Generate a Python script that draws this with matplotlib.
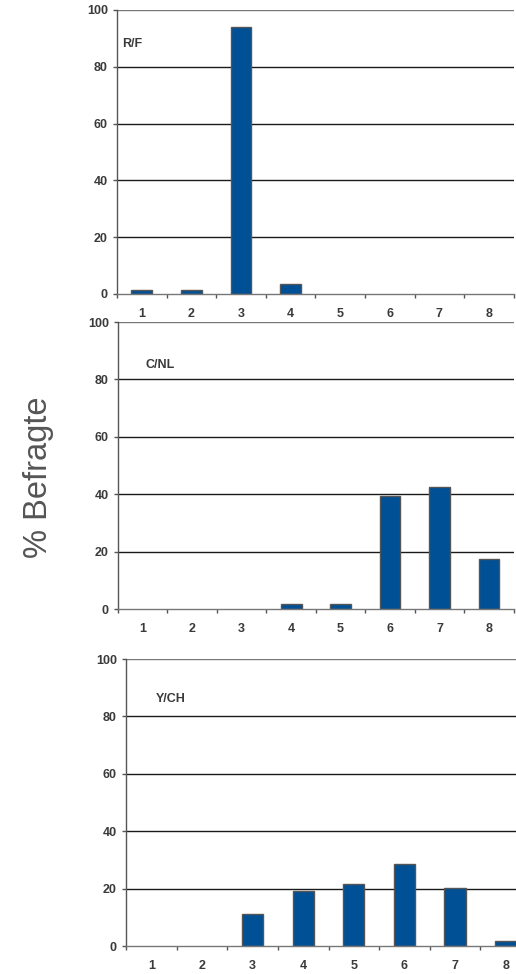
import matplotlib

matplotlib.use("Agg")
import matplotlib.pyplot as plt  # noqa: E402
import numpy as np  # noqa: E402

plt.rcParams["font.family"] = ["Liberation Sans", "DejaVu Sans"]

CATEGORIES = ["1", "2", "3", "4", "5", "6", "7", "8"]
PANEL_LABELS = ["R/F", "C/NL", "Y/CH"]
RF_VALUES = [1.5, 1.5, 94.1, 3.4, 0, 0, 0, 0]
CNL_VALUES = [0, 0, 0, 1.6, 1.6, 39.3, 42.6, 17.6]
YCH_VALUES = [0, 0, 11.3, 19.3, 21.5, 28.5, 20.1, 1.6]
Y_TICKS = [0, 20, 40, 60, 80, 100]

BAR_COLOR = "#005096"
TEXT_COLOR = "#3a3a3a"

fig = plt.figure(figsize=(5.16, 9.74), dpi=100)

# panel rectangles in figure fractions (last one runs past the right edge like the source)
rects = [
    [0.2267, 0.6982, 0.769, 0.2916],
    [0.2287, 0.3747, 0.767, 0.2947],
    [0.2442, 0.0287, 0.785, 0.2947],
]
label_pos = [(-0.4, 88), (0.05, 85), (0.09, 86)]

for rect, values, name, (lx, ly) in zip(rects, [RF_VALUES, CNL_VALUES, YCH_VALUES], PANEL_LABELS, label_pos):
    ax = fig.add_axes(rect)
    x = np.arange(len(CATEGORIES))
    ax.set_axisbelow(True)
    for y in Y_TICKS[1:]:
        ax.axhline(y, color="#1a1a1a" if y < 100 else "#777777", lw=1.0, zorder=0)
    widths = [1.0 if v > 0 else 0.0 for v in values]
    ax.bar(x, values, width=0.42, color=BAR_COLOR, edgecolor="#555555", linewidth=widths, zorder=2)
    ax.set_xlim(-0.5, len(CATEGORIES) - 0.5)
    ax.set_ylim(0, 100)
    ax.set_yticks(Y_TICKS)
    ax.set_xticks(x)
    ax.set_xticklabels(CATEGORIES)
    ax.set_xticks(np.arange(-0.5, len(CATEGORIES), 1.0), minor=True)
    ax.tick_params(axis="x", which="major", length=0, pad=10, labelsize=9, labelcolor=TEXT_COLOR)
    ax.tick_params(axis="x", which="minor", length=3, width=1, color="#555555", direction="out")
    ax.tick_params(axis="y", length=3, width=1, color="#555555", pad=3.5, labelsize=9, labelcolor=TEXT_COLOR)
    for lab in ax.get_xticklabels() + ax.get_yticklabels():
        lab.set_fontweight("bold")
    for side in ("top", "right"):
        ax.spines[side].set_visible(False)
    ax.spines["left"].set_color("#555555")
    ax.spines["bottom"].set_color("#777777")
    ax.spines["left"].set_linewidth(1.0)
    ax.spines["bottom"].set_linewidth(1.0)
    ax.text(lx, ly, name, fontsize=9, fontweight="bold", color=TEXT_COLOR, va="center", ha="left")
    ax.patch.set_alpha(0)

fig.text(0.074, 0.51, "% Befragte", rotation=90, fontsize=23.5, color="#555555", ha="center", va="center")

fig.savefig("out.png", dpi=100)
